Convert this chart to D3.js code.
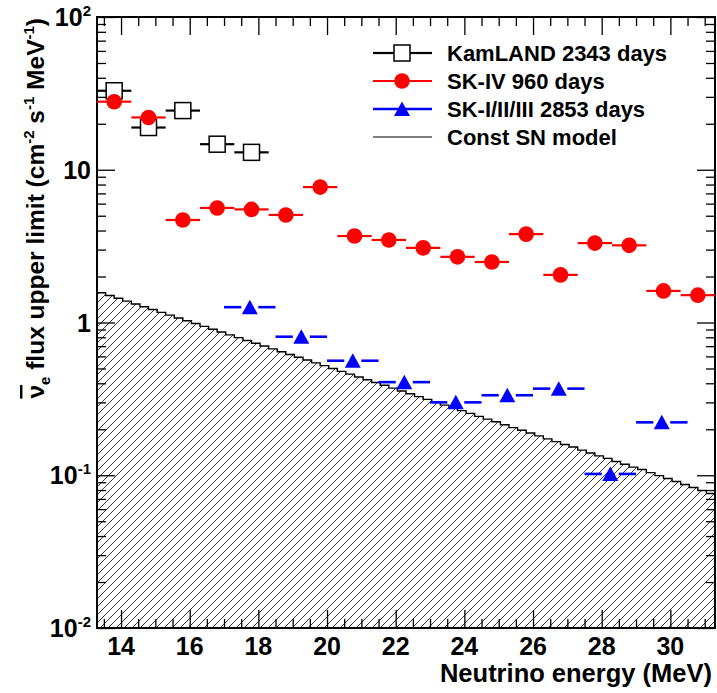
<!DOCTYPE html>
<html>
<head>
<meta charset="utf-8">
<script src="https://cdn.jsdelivr.net/npm/d3@7"></script>
<style>
  body { margin: 0; background: #fff; }
  svg { display: block; }
  text { font-family: "Liberation Sans", Arial, Helvetica, sans-serif; font-weight: bold; fill: #000; }
</style>
</head>
<body>
<svg id="chart" width="717" height="693"></svg>
<script>
// KamLAND 2343 days: 1 MeV bins
const kamEnergy = [13.8, 14.8, 15.8, 16.8, 17.8];
const kamLimit = [32.9, 18.9, 24.4, 14.7, 13.0];
const kamHalfWidth = 0.5;

// SK-IV 960 days: 1 MeV bins
const skivEnergy = [13.8, 14.8, 15.8, 16.8, 17.8, 18.8, 19.8, 20.8, 21.8, 22.8, 23.8, 24.8, 25.8, 26.8, 27.8, 28.8, 29.8, 30.8];
const skivLimit = [27.9, 22.0, 4.69, 5.62, 5.5, 5.06, 7.7, 3.68, 3.47, 3.08, 2.69, 2.49, 3.79, 2.05, 3.31, 3.2, 1.61, 1.51];
const skivHalfWidth = 0.5;

// SK-I/II/III 2853 days: 1.5 MeV bins
const sk123Energy = [17.75, 19.25, 20.75, 22.25, 23.75, 25.25, 26.75, 28.25, 29.75];
const sk123Limit = [1.26, 0.807, 0.562, 0.407, 0.300, 0.334, 0.369, 0.102, 0.222];
const sk123HalfWidth = 0.75;

// Constant supernova model flux, 0.25 MeV histogram bins from 13.3 MeV
const snBinLow = 13.3;
const snBinWidth = 0.25;
const snFlux = [
  1.567, 1.502, 1.440, 1.380, 1.323, 1.268, 1.216, 1.165, 1.117, 1.071,
  1.026, 0.984, 0.943, 0.904, 0.866, 0.830, 0.796, 0.763, 0.731, 0.701,
  0.672, 0.644, 0.618, 0.592, 0.568, 0.544, 0.522, 0.500, 0.479, 0.459,
  0.440, 0.422, 0.405, 0.388, 0.372, 0.356, 0.342, 0.327, 0.314, 0.301,
  0.288, 0.276, 0.265, 0.254, 0.243, 0.233, 0.224, 0.214, 0.205, 0.197,
  0.189, 0.181, 0.173, 0.166, 0.159, 0.153, 0.146, 0.140, 0.134, 0.129,
  0.123, 0.118, 0.113, 0.109, 0.104, 0.0995, 0.0952, 0.0910, 0.0870, 0.0832,
  0.0795, 0.0760
];

// Axis ticks and labels
const xDomain = [13.3, 31.3];
const yDomain = [0.01, 100];
const xTicks = [14, 16, 18, 20, 22, 24, 26, 28, 30];
const yTicks = [0.01, 0.1, 1, 10, 100];
const yTickBase = ["10", "10", "1", "10", "10"];
const yTickExp = ["-2", "-1", "", "", "2"];
const xTitle = "Neutrino energy (MeV)";
const legendLabels = ["KamLAND 2343 days", "SK-IV 960 days", "SK-I/II/III 2853 days", "Const SN model"];

const W = 717, H = 693;
const m = { left: 97, top: 17, right: 2, bottom: 65 };
const x = d3.scaleLinear().domain(xDomain).range([m.left, W - m.right]);
const y = d3.scaleLog().domain(yDomain).range([H - m.bottom, m.top]);
const [x0, x1] = x.range();
const [yb, yt] = y.range();

const svg = d3.select("#chart");

// hatch pattern for the model region
const defs = svg.append("defs");
const pat = defs.append("pattern")
  .attr("id", "hatch").attr("patternUnits", "userSpaceOnUse")
  .attr("width", 8).attr("height", 8);
pat.append("path")
  .attr("d", "M-2,2 L2,-2 M0,8 L8,0 M6,10 L10,6")
  .attr("stroke", "#222").attr("stroke-width", 0.9).attr("fill", "none");
defs.append("clipPath").attr("id", "plotclip")
  .append("rect").attr("x", x0).attr("y", yt).attr("width", x1 - x0).attr("height", yb - yt);

const plot = svg.append("g").attr("clip-path", "url(#plotclip)");

// model histogram as step points
const snPts = snFlux.map((v, i) => [snBinLow + i * snBinWidth, v]);
snPts.push([snBinLow + snFlux.length * snBinWidth, snFlux[snFlux.length - 1]]);
plot.append("path")
  .datum(snPts)
  .attr("fill", "url(#hatch)")
  .attr("d", d3.area().curve(d3.curveStepAfter).x(d => x(d[0])).y0(yb).y1(d => y(d[1])));
plot.append("path")
  .datum(snPts)
  .attr("fill", "none").attr("stroke", "#000").attr("stroke-width", 1.4)
  .attr("d", d3.line().curve(d3.curveStepAfter).x(d => x(d[0])).y(d => y(d[1])));

// axes: inward ticks on all four sides
function styleAxis(g) {
  g.select(".domain").remove();
  g.selectAll(".tick line").attr("stroke", "#000").attr("stroke-width", 1.3);
  g.selectAll(".tick text").remove();
}
const xMinor = d3.range(13.5, 31.01, 0.5).filter(v => !xTicks.includes(v));
const yMinor = y.ticks().filter(v => !yTicks.some(t => Math.abs(t - v) / t < 1e-6));

svg.append("g").attr("transform", `translate(0,${yb})`)
  .call(d3.axisBottom(x).tickValues(xTicks).tickSize(-18)).call(styleAxis);
svg.append("g").attr("transform", `translate(0,${yb})`)
  .call(d3.axisBottom(x).tickValues(xMinor).tickSize(-9)).call(styleAxis);
svg.append("g").attr("transform", `translate(0,${yt})`)
  .call(d3.axisTop(x).tickValues(xTicks).tickSize(-18)).call(styleAxis);
svg.append("g").attr("transform", `translate(0,${yt})`)
  .call(d3.axisTop(x).tickValues(xMinor).tickSize(-9)).call(styleAxis);
svg.append("g").attr("transform", `translate(${x0},0)`)
  .call(d3.axisLeft(y).tickValues(yTicks).tickSize(-18)).call(styleAxis);
svg.append("g").attr("transform", `translate(${x0},0)`)
  .call(d3.axisLeft(y).tickValues(yMinor).tickSize(-9)).call(styleAxis);
svg.append("g").attr("transform", `translate(${x1},0)`)
  .call(d3.axisRight(y).tickValues(yTicks).tickSize(-18)).call(styleAxis);
svg.append("g").attr("transform", `translate(${x1},0)`)
  .call(d3.axisRight(y).tickValues(yMinor).tickSize(-9)).call(styleAxis);

// frame
svg.append("rect")
  .attr("x", x0).attr("y", yt).attr("width", x1 - x0).attr("height", yb - yt)
  .attr("fill", "none").attr("stroke", "#000").attr("stroke-width", 2);

// x tick labels
svg.append("g").selectAll("text").data(xTicks).join("text")
  .attr("x", d => x(d)).attr("y", 655)
  .attr("text-anchor", "middle").attr("font-size", 25)
  .text(d => d);

// y tick labels with exponents
const yl = svg.append("g").selectAll("text").data(yTicks).join("text")
  .attr("x", 91).attr("y", d => y(d) + 9)
  .attr("text-anchor", "end").attr("font-size", 25);
yl.append("tspan").text((d, i) => yTickBase[i]);
yl.append("tspan").attr("font-size", 15).attr("dy", -10).text((d, i) => yTickExp[i]);

// x title
svg.append("text").attr("x", 712).attr("y", 682)
  .attr("text-anchor", "end").attr("font-size", 25.5).text(xTitle);

// y title with sub/superscripts; the antineutrino symbol gets an overline
const yTitle = svg.append("text")
  .attr("transform", "translate(44,18) rotate(-90)")
  .attr("text-anchor", "end").attr("font-size", 24.5);
const segs = [
  ["\u03BD", 0, true], ["e", -1], [" flux upper limit (cm", 0], ["-2", 1],
  [" s", 0], ["-1", 1], [" MeV", 0], ["-1", 1], [")", 0]
];
let shift = 0;
segs.forEach(([t, k, bar]) => {
  const target = k === 1 ? -10 : k === -1 ? 6 : 0;
  const ts = yTitle.append("tspan")
    .attr("dy", target - shift)
    .attr("font-size", k === 0 ? 24.5 : 15)
    .text(t);
  if (bar) ts.style("text-decoration", "overline");
  shift = target;
});

// data markers
function drawBars(g, energies, limits, hw, color, width, gap) {
  g.selectAll("line.l").data(energies).join("line")
    .attr("x1", d => x(d - hw)).attr("x2", d => x(d) - gap)
    .attr("y1", (d, i) => y(limits[i])).attr("y2", (d, i) => y(limits[i]))
    .attr("stroke", color).attr("stroke-width", width);
  g.selectAll("line.r").data(energies).join("line")
    .attr("x1", d => x(d) + gap).attr("x2", d => x(d + hw))
    .attr("y1", (d, i) => y(limits[i])).attr("y2", (d, i) => y(limits[i]))
    .attr("stroke", color).attr("stroke-width", width);
}
const tri = (cx, cy) => `M${cx},${cy - 7.5} L${cx + 8},${cy + 7} L${cx - 8},${cy + 7} Z`;
const sq = 16;

const gK = svg.append("g");
drawBars(gK, kamEnergy, kamLimit, kamHalfWidth, "#000", 2.2, sq / 2);
gK.selectAll("rect").data(kamEnergy).join("rect")
  .attr("x", d => x(d) - sq / 2).attr("y", (d, i) => y(kamLimit[i]) - sq / 2)
  .attr("width", sq).attr("height", sq)
  .attr("fill", "none").attr("stroke", "#000").attr("stroke-width", 1.5);

const gS4 = svg.append("g");
drawBars(gS4, skivEnergy, skivLimit, skivHalfWidth, "#ff0000", 2.2, 0);
gS4.selectAll("circle").data(skivEnergy).join("circle")
  .attr("cx", d => x(d)).attr("cy", (d, i) => y(skivLimit[i])).attr("r", 7.8)
  .attr("fill", "#ff0000");

const gS1 = svg.append("g");
drawBars(gS1, sk123Energy, sk123Limit, sk123HalfWidth, "#0000ff", 2.6, 8.5);
gS1.selectAll("path").data(sk123Energy).join("path")
  .attr("d", (d, i) => tri(x(d), y(sk123Limit[i])))
  .attr("fill", "#0000ff");

// legend
const lg = svg.append("g");
const rowY = [53, 81, 109, 137];
const lx0 = 373, lx1 = 432, lmx = 402;
// KamLAND entry
lg.append("line").attr("x1", lx0).attr("x2", lmx - sq / 2).attr("y1", rowY[0]).attr("y2", rowY[0]).attr("stroke", "#000").attr("stroke-width", 2.2);
lg.append("line").attr("x1", lmx + sq / 2).attr("x2", lx1).attr("y1", rowY[0]).attr("y2", rowY[0]).attr("stroke", "#000").attr("stroke-width", 2.2);
lg.append("rect").attr("x", lmx - sq / 2).attr("y", rowY[0] - sq / 2).attr("width", sq).attr("height", sq)
  .attr("fill", "none").attr("stroke", "#000").attr("stroke-width", 1.5);
// SK-IV entry
lg.append("line").attr("x1", lx0).attr("x2", lx1).attr("y1", rowY[1]).attr("y2", rowY[1]).attr("stroke", "#ff0000").attr("stroke-width", 2.2);
lg.append("circle").attr("cx", lmx).attr("cy", rowY[1]).attr("r", 7.8).attr("fill", "#ff0000");
// SK-I/II/III entry
lg.append("line").attr("x1", lx0).attr("x2", lx1).attr("y1", rowY[2]).attr("y2", rowY[2]).attr("stroke", "#0000ff").attr("stroke-width", 2.6);
lg.append("path").attr("d", tri(lmx, rowY[2])).attr("fill", "#0000ff");
// model entry
lg.append("line").attr("x1", lx0).attr("x2", lx1).attr("y1", rowY[3]).attr("y2", rowY[3]).attr("stroke", "#000").attr("stroke-width", 1.2);

lg.selectAll("text").data(legendLabels).join("text")
  .attr("x", 447).attr("y", (d, i) => rowY[i] + 8)
  .attr("font-size", 22).text(d => d);
</script>
</body>
</html>
